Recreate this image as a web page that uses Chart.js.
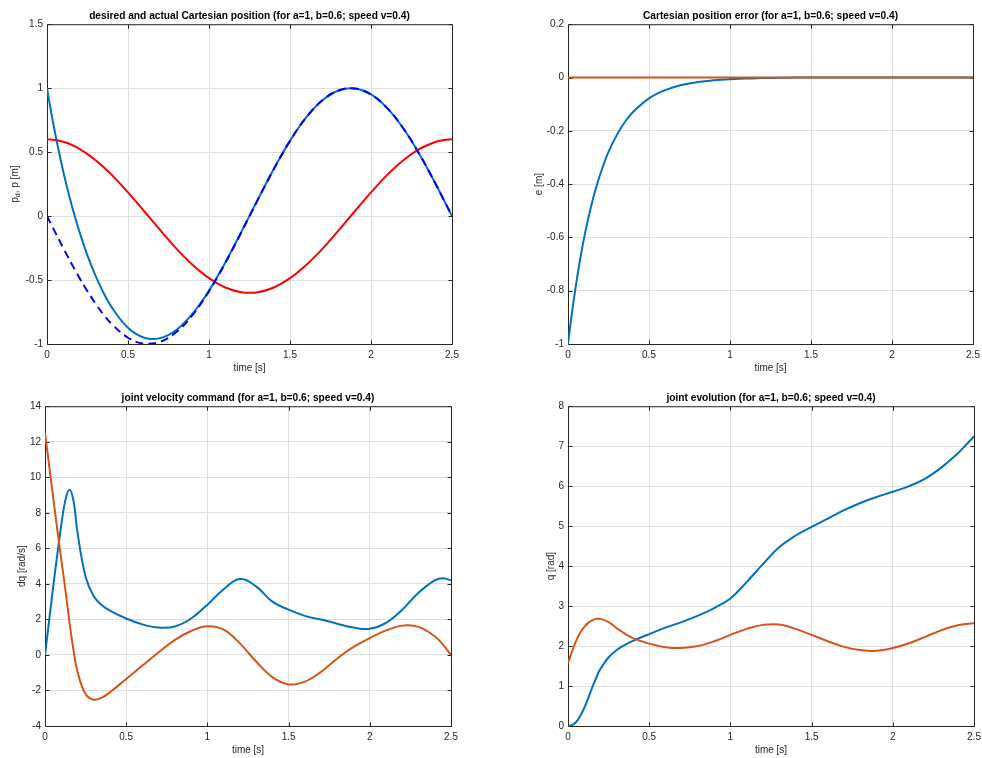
<!DOCTYPE html>
<html>
<head>
<meta charset="utf-8">
<title>Cartesian tracking of a 2R robot</title>
<script src="https://cdn.jsdelivr.net/npm/chart.js@4.4.1/dist/chart.umd.min.js"></script>
<style>
  html, body { margin: 0; padding: 0; background: #fff; }
  #fig { position: relative; width: 982px; height: 758px; }
  #fig canvas { position: absolute; }
</style>
</head>
<body>
<div id="fig">
  <canvas id="pos" width="491" height="379" style="left:0;top:0"></canvas>
  <canvas id="err" width="491" height="379" style="left:491px;top:0"></canvas>
  <canvas id="vel" width="491" height="379" style="left:0;top:379px"></canvas>
  <canvas id="joint" width="491" height="379" style="left:491px;top:379px"></canvas>
</div>
<script>
// sample times [s]
const time = [0, 0.025, 0.05, 0.075, 0.1, 0.125, 0.15, 0.175, 0.2, 0.25, 0.3, 0.35, 0.4,
  0.5, 0.6, 0.7, 0.8, 0.9, 1.0, 1.1, 1.2, 1.3, 1.4, 1.5, 1.6, 1.7, 1.8, 1.9, 2.0,
  2.1, 2.2, 2.3, 2.4, 2.45, 2.5];

// desired / actual cartesian position [m]
const pxDesired = [0, -0.063, -0.125, -0.187, -0.249, -0.309, -0.368, -0.426, -0.482, -0.588, -0.685, -0.771, -0.844,
  -0.951, -0.998, -0.982, -0.905, -0.771, -0.588, -0.368, -0.125, 0.125, 0.368, 0.588, 0.771, 0.905, 0.982, 0.998, 0.951,
  0.844, 0.685, 0.482, 0.249, 0.125, 0];
const pyDesired = [0.6, 0.599, 0.595, 0.589, 0.581, 0.571, 0.558, 0.543, 0.525, 0.485, 0.437, 0.382, 0.322,
  0.185, 0.038, -0.112, -0.256, -0.382, -0.485, -0.558, -0.595, -0.595, -0.558, -0.485, -0.382, -0.256, -0.112, 0.038, 0.185,
  0.322, 0.437, 0.525, 0.581, 0.595, 0.6];
const pxActual = [1, 0.817, 0.650, 0.495, 0.351, 0.220, 0.097, -0.016, -0.121, -0.309, -0.468, -0.603, -0.714,
  -0.873, -0.951, -0.954, -0.888, -0.761, -0.582, -0.364, -0.123, 0.126, 0.368, 0.588, 0.771, 0.905, 0.982, 0.998, 0.951,
  0.844, 0.685, 0.482, 0.249, 0.125, 0];

// cartesian error [m]
const errX = [-1, -0.880, -0.775, -0.682, -0.600, -0.529, -0.465, -0.410, -0.361, -0.279, -0.217, -0.168, -0.130,
  -0.078, -0.047, -0.028, -0.017, -0.010, -0.006, -0.004, -0.002, -0.001, 0, 0, 0, 0, 0, 0, 0,
  0, 0, 0, 0, 0, 0];
const errY = [0, 0, 0, 0, 0, 0, 0, 0, 0, 0, 0, 0, 0,
  0, 0, 0, 0, 0, 0, 0, 0, 0, 0, 0, 0, 0, 0, 0, 0,
  0, 0, 0, 0, 0, 0];

// joint velocity command [rad/s]
const dq1 = [0, 1.9, 3.8, 5.6, 7.3, 8.7, 9.3, 8.7, 6.9, 4.4, 3.3, 2.8, 2.5,
  2.05, 1.72, 1.54, 1.6, 2.05, 2.83, 3.7, 4.27, 3.86, 3.0, 2.55, 2.2, 1.99, 1.76, 1.54, 1.47,
  1.8, 2.55, 3.5, 4.2, 4.32, 4.2];
const dq2 = [12.5, 10.7, 8.9, 7.1, 5.4, 3.7, 1.9, 0.3, -0.95, -2.2, -2.52, -2.4, -2.1,
  -1.35, -0.6, 0.15, 0.85, 1.35, 1.61, 1.42, 0.65, -0.37, -1.25, -1.66, -1.5, -0.95, -0.2, 0.45, 0.95,
  1.38, 1.65, 1.58, 1.05, 0.58, 0];

// joint positions [rad]
const q1 = [0, 0.02, 0.1, 0.25, 0.45, 0.7, 0.97, 1.22, 1.43, 1.72, 1.9, 2.03, 2.13,
  2.3, 2.46, 2.6, 2.76, 2.95, 3.19, 3.6, 4.05, 4.47, 4.76, 4.98, 5.19, 5.4, 5.58, 5.73, 5.86,
  6.0, 6.19, 6.47, 6.82, 7.03, 7.25];
const q2 = [1.57, 1.87, 2.13, 2.33, 2.48, 2.58, 2.65, 2.68, 2.68, 2.6, 2.45, 2.31, 2.2,
  2.06, 1.97, 1.95, 2.0, 2.12, 2.28, 2.43, 2.53, 2.54, 2.43, 2.28, 2.12, 1.98, 1.9, 1.88, 1.95,
  2.07, 2.23, 2.4, 2.52, 2.55, 2.57];

const FONT = '"Liberation Sans", Arial, Helvetica, sans-serif';
const BLUE = '#0072BD';
const ORANGE = '#D95319';

Chart.defaults.font.family = FONT;
Chart.defaults.font.size = 10;
Chart.defaults.color = '#262626';

const xy = (ys) => time.map((t, i) => ({ x: t, y: ys[i] }));

// matlab style box with inner ticks, plus axis labels
const frame = {
  id: 'frame',
  beforeDatasetsDraw(chart) {
    const { ctx, chartArea: a, scales } = chart;
    const L = a.left + 0.5, R = a.right + 0.5, T = a.top + 0.5, B = a.bottom + 0.5;
    ctx.save();
    ctx.strokeStyle = '#262626';
    ctx.lineWidth = 1;
    ctx.beginPath();
    ctx.rect(L, T, R - L, B - T);
    scales.x.ticks.forEach((t) => {
      const p = Math.round(scales.x.getPixelForValue(t.value)) + 0.5;
      ctx.moveTo(p, T); ctx.lineTo(p, T + 4);
      ctx.moveTo(p, B); ctx.lineTo(p, B - 4);
    });
    scales.y.ticks.forEach((t) => {
      const p = Math.round(scales.y.getPixelForValue(t.value)) + 0.5;
      ctx.moveTo(L, p); ctx.lineTo(L + 4, p);
      ctx.moveTo(R, p); ctx.lineTo(R - 4, p);
    });
    ctx.stroke();
    ctx.restore();
  },
  afterDraw(chart, args, o) {
    const { ctx, chartArea: a } = chart;
    ctx.save();
    ctx.fillStyle = '#262626';
    ctx.textBaseline = 'middle';
    ctx.font = '10px ' + FONT;
    ctx.textAlign = 'center';
    ctx.fillText(o.xLabel, (a.left + a.right) / 2, o.xLabelY);

    // y label, rotated, may hold a subscript part
    ctx.translate(o.yLabelX, (a.top + a.bottom) / 2);
    ctx.rotate(-Math.PI / 2);
    ctx.textAlign = 'left';
    const parts = o.yLabel;
    const fontOf = (p) => (p.sub ? '7px ' : '10px ') + FONT;
    let w = 0;
    parts.forEach((p) => { ctx.font = fontOf(p); w += ctx.measureText(p.t).width; });
    let x = -w / 2;
    parts.forEach((p) => {
      ctx.font = fontOf(p);
      ctx.fillText(p.t, x, p.sub ? 3 : 0);
      x += ctx.measureText(p.t).width;
    });
    ctx.restore();
  }
};

const fmt = (v) => String(Math.round(v * 100) / 100);

function plot(id, box, title, datasets, yRange, labels) {
  const [L, T, R, B] = box;
  return new Chart(document.getElementById(id), {
    type: 'line',
    data: { datasets },
    plugins: [frame],
    options: {
      responsive: false,
      animation: false,
      events: [],
      layout: { padding: { left: 0, top: 0, right: 491 - R, bottom: 0 } },
      elements: {
        point: { radius: 0 },
        line: { borderWidth: 2, tension: 0.4, fill: false }
      },
      scales: {
        x: {
          type: 'linear', min: 0, max: 2.5,
          afterFit: (s) => { s.height = 379 - B; s.paddingLeft = 0; s.paddingRight = 0; },
          border: { display: false },
          grid: { color: '#dedede', drawTicks: false },
          ticks: { stepSize: 0.5, padding: 5, maxRotation: 0, autoSkip: false, callback: fmt }
        },
        y: {
          min: yRange[0], max: yRange[1],
          afterFit: (s) => { s.width = L; s.paddingTop = 0; s.paddingBottom = 0; },
          border: { display: false },
          grid: { color: '#dedede', drawTicks: false },
          ticks: { stepSize: yRange[2], padding: 4, autoSkip: false, callback: fmt }
        }
      },
      plugins: {
        legend: { display: false },
        tooltip: { enabled: false },
        title: {
          display: true, text: title, fullSize: false, color: '#000',
          font: { size: 10.2, weight: 'bold' },
          padding: { top: T - 14, bottom: 2 }
        },
        frame: labels
      }
    }
  });
}

plot('pos', [47, 24, 452, 344],
  'desired and actual Cartesian position (for a=1, b=0.6; speed v=0.4)',
  [
    { data: xy(pxDesired), borderColor: '#0000FF', borderDash: [8, 5], order: 0 },
    { data: xy(pyDesired), borderColor: '#FF0000', order: 1 },
    { data: xy(pxActual), borderColor: BLUE, order: 2 }
  ],
  [-1, 1.5, 0.5],
  { xLabel: 'time [s]', xLabelY: 368, yLabelX: 15,
    yLabel: [{ t: 'p' }, { t: 'd', sub: true }, { t: ', p [m]' }] });

plot('err', [77, 24, 482, 344],
  'Cartesian position error (for a=1, b=0.6; speed v=0.4)',
  [
    { data: xy(errX), borderColor: BLUE, order: 1 },
    { data: xy(errY), borderColor: ORANGE, order: 0 }
  ],
  [-1, 0.2, 0.2],
  { xLabel: 'time [s]', xLabelY: 368, yLabelX: 48, yLabel: [{ t: 'e [m]' }] });

plot('vel', [45, 27, 451, 347],
  'joint velocity command (for a=1, b=0.6; speed v=0.4)',
  [
    { data: xy(dq1), borderColor: BLUE, order: 1 },
    { data: xy(dq2), borderColor: ORANGE, order: 0 }
  ],
  [-4, 14, 2],
  { xLabel: 'time [s]', xLabelY: 371, yLabelX: 22, yLabel: [{ t: 'dq [rad/s]' }] });

plot('joint', [77, 27, 483, 347],
  'joint evolution (for a=1, b=0.6; speed v=0.4)',
  [
    { data: xy(q1), borderColor: BLUE, order: 1 },
    { data: xy(q2), borderColor: ORANGE, order: 0 }
  ],
  [0, 8, 1],
  { xLabel: 'time [s]', xLabelY: 371, yLabelX: 60, yLabel: [{ t: 'q [rad]' }] });
</script>
</body>
</html>
